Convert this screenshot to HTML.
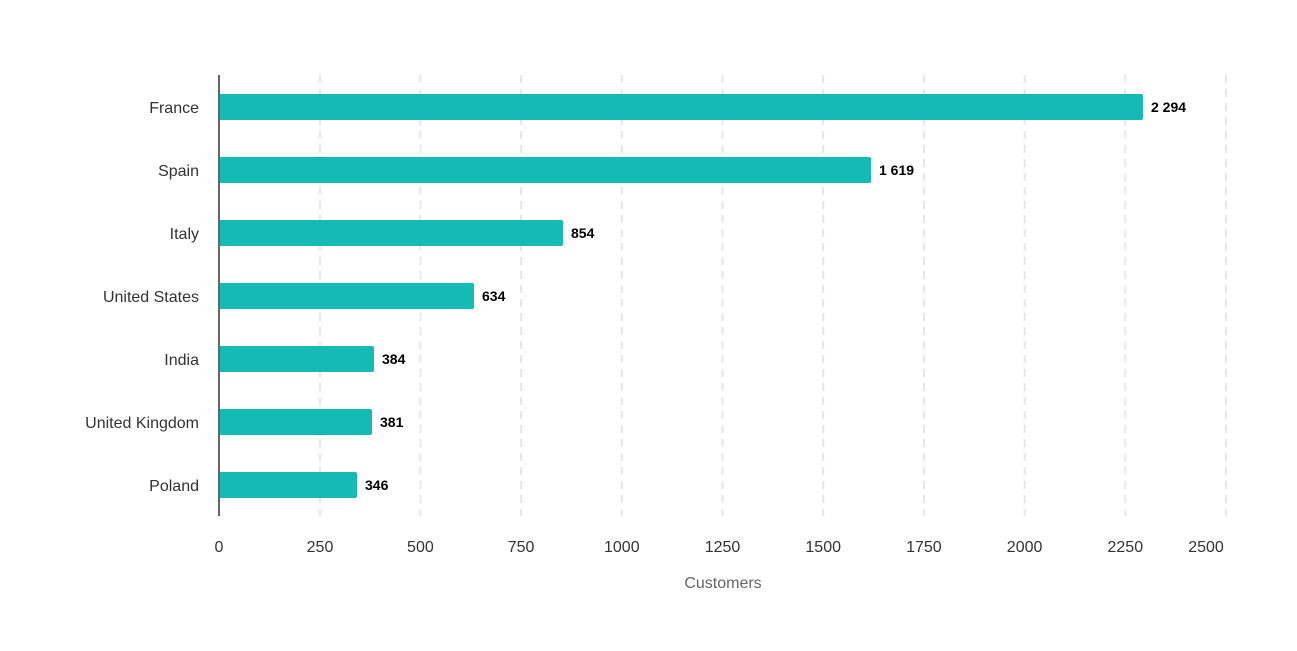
<!DOCTYPE html>
<html><head><style>body{margin:0;background:#fff}</style></head><body>
<svg width="1297" height="646" xmlns="http://www.w3.org/2000/svg" font-family="Liberation Sans, Arial, sans-serif">
<rect width="1297" height="646" fill="#fff"/>
<g stroke="#e6e6e6" stroke-width="2" stroke-dasharray="8,6">
<line x1="320" y1="75" x2="320" y2="516"/><line x1="420.4" y1="75" x2="420.4" y2="516"/><line x1="521.1" y1="75" x2="521.1" y2="516"/><line x1="621.8" y1="75" x2="621.8" y2="516"/><line x1="722.5" y1="75" x2="722.5" y2="516"/><line x1="823.2" y1="75" x2="823.2" y2="516"/><line x1="923.9" y1="75" x2="923.9" y2="516"/><line x1="1024.6" y1="75" x2="1024.6" y2="516"/><line x1="1125.3" y1="75" x2="1125.3" y2="516"/><line x1="1226" y1="75" x2="1226" y2="516"/>
</g>
<g fill="#14bbb4">
<rect x="219" y="94" width="924" height="26" rx="2"/>
<rect x="219" y="157" width="652" height="26" rx="2"/>
<rect x="219" y="220" width="344" height="26" rx="2"/>
<rect x="219" y="283" width="255" height="26" rx="2"/>
<rect x="219" y="346" width="155" height="26" rx="2"/>
<rect x="219" y="409" width="153" height="26" rx="2"/>
<rect x="219" y="472" width="138" height="26" rx="2"/>
</g>
<line x1="219" y1="75" x2="219" y2="516" stroke="#666" stroke-width="2"/>
<g font-size="16" fill="#333" text-anchor="end">
<text x="199" y="113">France</text><text x="199" y="176">Spain</text><text x="199" y="239">Italy</text><text x="199" y="302">United States</text><text x="199" y="365">India</text><text x="199" y="428">United Kingdom</text><text x="199" y="491">Poland</text>
</g>
<g font-size="14" font-weight="bold" fill="#000">
<text x="1151" y="112">2 294</text><text x="879" y="175">1 619</text><text x="571" y="238">854</text><text x="482" y="301">634</text><text x="382" y="364">384</text><text x="380" y="427">381</text><text x="365" y="490">346</text>
</g>
<g font-size="16" fill="#333" text-anchor="middle">
<text x="219" y="552">0</text><text x="320" y="552">250</text><text x="420.4" y="552">500</text><text x="521.1" y="552">750</text><text x="621.8" y="552">1000</text><text x="722.5" y="552">1250</text><text x="823.2" y="552">1500</text><text x="923.9" y="552">1750</text><text x="1024.6" y="552">2000</text><text x="1125.3" y="552">2250</text><text x="1206" y="552">2500</text>
</g>
<text x="723" y="588" font-size="16" fill="#666" text-anchor="middle">Customers</text>
</svg>
</body></html>
